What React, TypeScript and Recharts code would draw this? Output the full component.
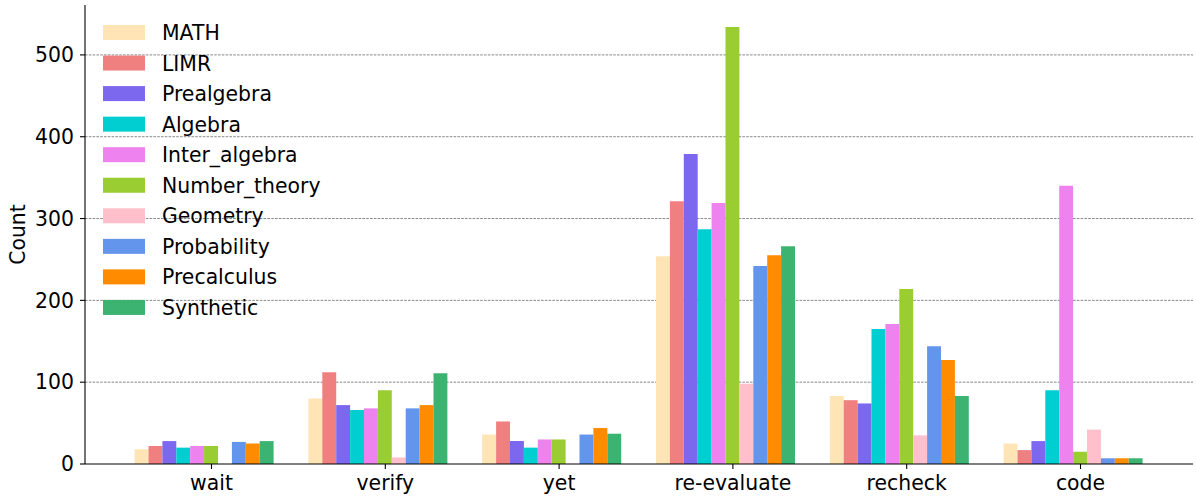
import React from 'react';
import { BarChart, Bar, XAxis, YAxis, CartesianGrid, Legend } from 'recharts';

const categories = ['wait', 'verify', 'yet', 're-evaluate', 'recheck', 'code'];

const MATH = [18, 80, 36, 254, 83, 25];
const LIMR = [22, 112, 52, 321, 78, 17];
const Prealgebra = [28, 72, 28, 379, 74, 28];
const Algebra = [20, 66, 20, 287, 165, 90];
const Inter_algebra = [22, 68, 30, 319, 171, 340];
const Number_theory = [22, 90, 30, 534, 214, 15];
const Geometry = [0, 8, 0, 98, 35, 42];
const Probability = [27, 68, 36, 242, 144, 7];
const Precalculus = [25, 72, 44, 255, 127, 7];
const Synthetic = [28, 111, 37, 266, 83, 7];

const seriesNames = [
  'MATH', 'LIMR', 'Prealgebra', 'Algebra', 'Inter_algebra',
  'Number_theory', 'Geometry', 'Probability', 'Precalculus', 'Synthetic',
];
const seriesValues = [
  MATH, LIMR, Prealgebra, Algebra, Inter_algebra,
  Number_theory, Geometry, Probability, Precalculus, Synthetic,
];
const seriesColors = [
  '#FFE4B5', '#F08080', '#7B68EE', '#00CED1', '#EE82EE',
  '#9ACD32', '#FFC0CB', '#6495ED', '#FF8C00', '#3CB371',
];

const yTicks = [0, 100, 200, 300, 400, 500];

const data = categories.map((c, i) => {
  const row: Record<string, string | number> = { category: c };
  seriesNames.forEach((n, j) => {
    row[n] = seriesValues[j][i];
  });
  return row;
});

const FONT = '"DejaVu Sans", sans-serif';
const FS = 20.4;

const XTick = (props: any) => {
  const { x, payload } = props;
  const tx = x + 7;
  return (
    <g>
      <line x1={tx} y1={464} x2={tx} y2={469} stroke="#000" strokeWidth={1.1} />
      <text x={tx} y={490} textAnchor="middle" fontSize={FS} fontFamily={FONT} fill="#000">
        {payload.value}
      </text>
    </g>
  );
};

const YLabel = () => (
  <text
    x={18}
    y={234.5}
    transform="rotate(-90 18 234.5)"
    textAnchor="middle"
    dominantBaseline="central"
    fontSize={FS}
    fontFamily={FONT}
    fill="#000"
  >
    Count
  </text>
);

const LegendContent = () => (
  <svg width={340} height={330} style={{ display: 'block' }}>
    {seriesNames.map((n, i) => (
      <g key={n}>
        <rect x={103} y={25 + i * 30.55} width={42} height={15} fill={seriesColors[i]} />
        <text x={162} y={40 + i * 30.55} fontSize={FS} fontFamily={FONT} fill="#000">
          {n}
        </text>
      </g>
    ))}
  </svg>
);

export default function App() {
  return (
    <div style={{ position: 'absolute', left: 0, top: 0, width: 1196, height: 497, background: '#fff' }}>
      <BarChart
        width={1196}
        height={497}
        data={data}
        margin={{ top: 5, right: 3, left: 0, bottom: 0 }}
        barGap={0}
        barSize={13.9}
      >
        <CartesianGrid
          vertical={false}
          horizontalValues={[100, 200, 300, 400, 500]}
          stroke="#888"
          strokeWidth={1}
          strokeDasharray="2.6 1.2"
        />
        <XAxis
          dataKey="category"
          height={33}
          padding={{ left: 32.6, right: 32.6 }}
          axisLine={{ stroke: '#000', strokeWidth: 1.1 }}
          tickLine={false}
          tick={<XTick />}
          interval={0}
        />
        <YAxis
          width={85}
          domain={[0, 561]}
          ticks={yTicks}
          allowDataOverflow
          axisLine={{ stroke: '#000', strokeWidth: 1.1 }}
          tickLine={{ stroke: '#000', strokeWidth: 1.1 }}
          tickSize={5}
          tickMargin={6}
          tick={{ fontSize: FS, fontFamily: FONT, fill: '#000' }}
          label={<YLabel />}
        />
        <Legend
          layout="horizontal"
          verticalAlign="middle"
          align="center"
          wrapperStyle={{ left: 0, top: 0, width: 340, height: 330 }}
          content={<LegendContent />}
        />
        {seriesNames.map((n, i) => (
          <Bar key={n} dataKey={n} name={n} fill={seriesColors[i]} isAnimationActive={false} />
        ))}
      </BarChart>
    </div>
  );
}
